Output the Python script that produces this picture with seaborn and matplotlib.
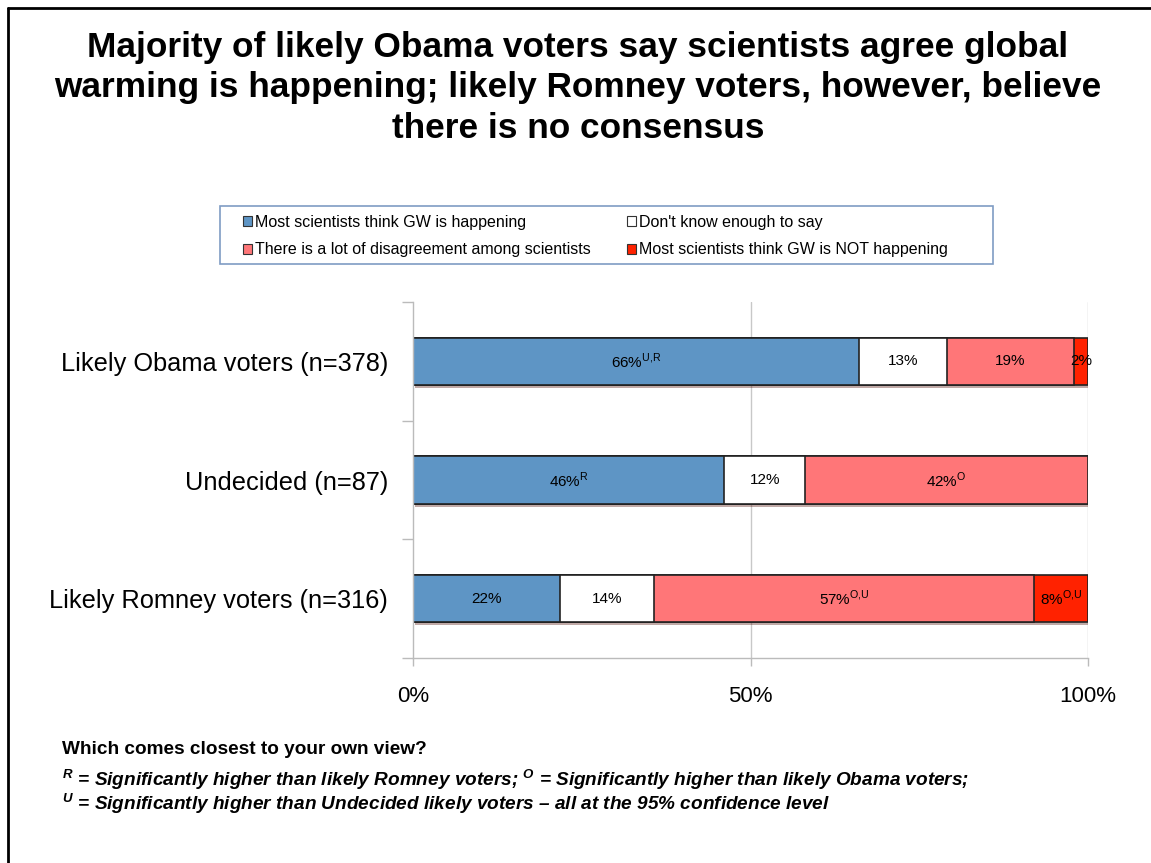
import numpy as np
import pandas as pd
import matplotlib
matplotlib.use('Agg')
import matplotlib.pyplot as plt
import seaborn as sns
from matplotlib.patches import Patch, Rectangle
from matplotlib.lines import Line2D
import matplotlib.patheffects as pe

groups = ['Likely Obama voters (n=378)', 'Undecided (n=87)', 'Likely Romney voters (n=316)']
answers = ['Most scientists think GW is happening', "Don't know enough to say",
           'There is a lot of disagreement among scientists', 'Most scientists think GW is NOT happening']
# bar shares (segment widths)
happening = [66.1, 46.1, 21.8]
dont_know = [13.0, 12.0, 13.9]
disagree = [18.8, 41.9, 56.3]
not_happening = [2.1, 0.0, 8.0]
# printed labels with significance marks
labels_happening = ['66%', '46%', '22%']
sup_happening = ['U{,}R', 'R', '']
labels_dont_know = ['13%', '12%', '14%']
labels_disagree = ['19%', '42%', '57%']
sup_disagree = ['', 'O', 'O{,}U']
labels_not = ['2%', '', '8%']
sup_not = ['', '', 'O{,}U']

colors = ['#5e95c5', '#ffffff', '#ff7678', '#ff2200']

sns.set_style('white')
plt.rcParams['font.family'] = ['Liberation Sans', 'DejaVu Sans']
plt.rcParams['mathtext.fontset'] = 'custom'
plt.rcParams['mathtext.rm'] = 'Liberation Sans'
plt.rcParams['text.color'] = 'black'
plt.rcParams['xtick.color'] = 'black'
plt.rcParams['ytick.color'] = 'black'
plt.rcParams['axes.labelcolor'] = 'black'

df = pd.DataFrame({'group': groups, 'a': happening, 'b': dont_know, 'c': disagree, 'd': not_happening})
df['c1'] = df['a']
df['c2'] = df['c1'] + df['b']
df['c3'] = df['c2'] + df['c']
df['c4'] = df['c3'] + df['d']

fig = plt.figure(figsize=(11.51, 8.63), dpi=100)
ax = fig.add_axes([0.3588, 0.2375, 0.5865, 0.4125])

for i, col in enumerate(['c4', 'c3', 'c2', 'c1']):
    sns.barplot(data=df, x=col, y='group', color=colors[3 - i], width=0.4,
                edgecolor='#222222', linewidth=1.2, saturation=1, ax=ax)
    if i == 0:
        for p in ax.patches:
            p.set_path_effects([pe.SimplePatchShadow(offset=(1.5, -2), alpha=0.35), pe.Normal()])

def lab(txt, sup):
    if sup:
        return txt + r'$^{\mathregular{' + sup + '}}$'
    return txt

for i in range(3):
    ax.text(df['c1'][i] / 2, i, lab(labels_happening[i], sup_happening[i]), ha='center', va='center', fontsize=11)
    ax.text(df['c1'][i] + dont_know[i] / 2, i, labels_dont_know[i], ha='center', va='center', fontsize=11)
    ax.text(df['c2'][i] + disagree[i] / 2, i, lab(labels_disagree[i], sup_disagree[i]), ha='center', va='center', fontsize=11)
    if labels_not[i]:
        ax.text(df['c3'][i] + not_happening[i] / 2, i, lab(labels_not[i], sup_not[i]), ha='center', va='center', fontsize=11)

ax.set_xlim(0, 100)
ax.set_ylim(2.5, -0.5)
ax.set_xticks([0, 50, 100])
ax.set_xticklabels(['0%', '50%', '100%'], fontsize=16)
ax.set_yticks([0, 1, 2])
ax.set_yticklabels(groups, fontsize=18.3)
ax.set_yticks([-0.5, 0.5, 1.5, 2.5], minor=True)
ax.tick_params(axis='y', which='major', length=0, pad=18)
ax.tick_params(axis='y', which='minor', length=8, color='#bbbbbb', width=1, left=True)
ax.tick_params(axis='x', length=6, color='#bbbbbb', width=1, pad=14, bottom=True)
ax.set_xlabel('')
ax.set_ylabel('')
for x in [50, 100]:
    ax.axvline(x, color='#c8c8c8', lw=1, zorder=0)
for s in ['top', 'right']:
    ax.spines[s].set_visible(False)
for s in ['left', 'bottom']:
    ax.spines[s].set_color('#bbbbbb')
    ax.spines[s].set_linewidth(1)

# legend box
fig.add_artist(Rectangle((220 / 1151, 1 - 264 / 863), 773 / 1151, 58 / 863, transform=fig.transFigure,
                         facecolor='white', edgecolor='#7f9cc4', lw=1.2))
handles = [Patch(facecolor=c, edgecolor='#333333', linewidth=0.8) for c in colors]
order = [0, 2, 1, 3]
fig.legend([handles[k] for k in order], [answers[k] for k in order], ncol=2,
           loc='center left', bbox_to_anchor=(235 / 1151, 1 - 236 / 863),
           fontsize=11.5, handlelength=0.55, handleheight=0.55, handletextpad=0.2,
           labelspacing=0.8, borderpad=0, columnspacing=2.3, frameon=False)

fig.text(0.502, 1 - 88 / 863,
         'Majority of likely Obama voters say scientists agree global\n'
         'warming is happening; likely Romney voters, however, believe\n'
         'there is no consensus',
         ha='center', va='center', fontsize=25.4, fontweight='bold', linespacing=1.3)

fig.text(62 / 1151, 1 - 750 / 863, 'Which comes closest to your own view?',
         ha='left', va='center', fontsize=13.7, fontweight='bold')
fig.text(62 / 1151, 1 - 780 / 863,
         r'$^{\mathregular{R}}$ = Significantly higher than likely Romney voters; '
         r'$^{\mathregular{O}}$ = Significantly higher than likely Obama voters;',
         ha='left', va='center', fontsize=13.7, fontweight='bold', style='italic')
fig.text(62 / 1151, 1 - 804 / 863,
         r'$^{\mathregular{U}}$ = Significantly higher than Undecided likely voters' + ' \u2013 all at the 95% confidence level',
         ha='left', va='center', fontsize=13.7, fontweight='bold', style='italic')

# slide frame
fig.add_artist(Line2D([8 / 1151, 8 / 1151], [0, 1 - 8 / 863], color='black', lw=2, transform=fig.transFigure))
fig.add_artist(Line2D([8 / 1151, 1], [1 - 8 / 863, 1 - 8 / 863], color='black', lw=2, transform=fig.transFigure))

fig.savefig('out.png', dpi=100)
